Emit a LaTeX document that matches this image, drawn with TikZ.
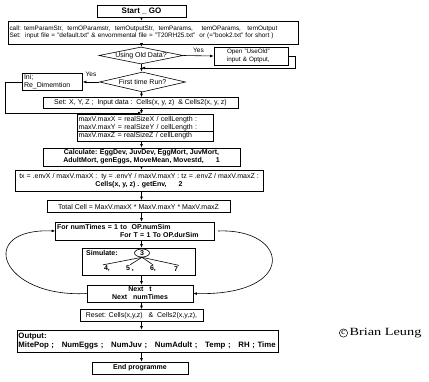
\documentclass[tikz,border=0pt]{standalone}
\usepackage{fontspec}
\setmainfont{Liberation Sans}
\newfontfamily\crfont{Liberation Serif}[FakeStretch=1.3]
\usetikzlibrary{arrows.meta,shapes.geometric,positioning}

\def \axis{141.5}
\def \txtsize{\fontsize{7}{7.8}\selectfont}

\begin{document}
\begin{tikzpicture}[x=1pt,y=-1pt,
  box/.style={draw, line width=.6pt, inner sep=1.5pt, font=\txtsize},
  bbox/.style={box, font=\txtsize\bfseries},
  ask/.style={diamond, draw, line width=.6pt, inner sep=0pt, aspect=5, font=\txtsize},
  arr/.style={line width=.6pt, -{Latex[length=3.5pt,width=2.8pt]}},
  lnk/.style={line width=.6pt},
  lbl/.style={font=\fontsize{6.5}{7}\selectfont}]
\useasboundingbox (0,0) rectangle (429,381);
\coordinate (axis) at (\axis,0);
\coordinate (j1) at (\axis,68);
\coordinate (j2) at (\axis,113);

\node[bbox, minimum width=89, minimum height=12, font=\fontsize{8}{9}\selectfont\bfseries] (start) at (141.5,11) {Start \_ GO};
\node[box, text width=287, minimum height=23, align=left, font=\fontsize{6.4}{7.4}\selectfont] (call) at (153,32.5)
  {call: temParamStr,\ \ temOParamstr,\ \ temOutputStr,\ \ temParams,\ \ \ \ temOParams,\ \ \ temOutput\\
   Set:\ \ input file = "default.txt" \& envornmental file = "T20RH25.txt"\ \ or (="book2.txt" for short )};
\node[ask, minimum width=82, minimum height=17] (using) at (141,55.5) {Using Old Data?};
\node[box, text width=48, inner xsep=13pt, minimum height=18, align=left, font=\fontsize{6.3}{7.3}\selectfont] (open) at (251,56) {Open "UseOld"\\input \& Optput,};
\node[ask, minimum width=86, minimum height=20] (first) at (142.5,82) {First time Run?};
\node[box, text width=57, minimum height=15, align=left] (ini) at (52.5,82) {Ini;\\Re\_Dimemtion};
\node[box, minimum width=195, minimum height=11] (set) at (140.5,103)
  {Set: X, Y, Z ;\ \ Input data :\ \ Cells(x, y, z)\ \ \& Cells2(x, y, z)};
\node[box, text width=133, minimum height=27, inner ysep=1pt, align=left] (maxv) at (145,127.5)
  {maxV.maxX = realSizeX / cellLength :\\maxV.maxY = realSizeY / cellLength :\\maxV.maxZ = realSizeZ / cellLength};
\draw[line width=.4pt] ([yshift=-3.6pt]maxv.west) -- ([yshift=-3.6pt]maxv.east);
\node[bbox, minimum width=197, minimum height=18, align=center] (calc) at (141.5,157)
  {Calculate: EggDev, JuvDev, EggMort, JuvMort,\\AdultMort, genEggs, MoveMean, Movestd,\hspace{12pt}1};
\node[box, minimum width=248, minimum height=21, align=center] (tx) at (139,180.5)
  {tx = .envX / maxV.maxX :\ \ ty = .envY / maxV.maxY : tz = .envZ / maxV.maxZ :\\\textbf{Cells(x, y, z) . getEnv,\hspace{12pt}2}};
\node[box, minimum width=183, minimum height=12] (total) at (138.5,206.5)
  {Total Cell = MaxV.maxX * MaxV.maxY * MaxV.maxZ};
\node[bbox, text width=156, minimum height=18, align=left] (for) at (135,231)
  {For numTimes = 1 to\ \ OP.numSim\\\hspace*{63pt}For T = 1 To OP.durSim};

% simulate block
\node[box, minimum width=113, minimum height=27] (sim) at (138.5,261.5) {};
\node[font=\txtsize\bfseries, anchor=west, inner sep=0pt] (simt) at (86,253) {Simulate:};
\node[ellipse, draw, line width=.6pt, minimum width=15, minimum height=8, inner sep=0pt, font=\txtsize\bfseries] (three) at (142,253) {3};
\foreach \x/\t/\nm in {107/{4,}/s4, 130/{5 ,}/s5, 153/{6,}/s6, 176/{7}/s7}
  \node[font=\txtsize\bfseries, inner sep=1pt] (\nm) at (\x,269) {\t};
\draw[lnk] (three.south) -- (s4.north west);
\draw[lnk] (three.south) -- (s5.north);
\draw[lnk] (three.south) -- (s6.north);
\draw[lnk] (three.south) -- (s7.north east);

\node[bbox, minimum width=106, minimum height=17, align=center] (next) at (140,293.5) {Next\ \ \ t\\Next\ \ \ numTimes};
\node[box, minimum width=123, minimum height=12] (reset) at (141.5,315.5) {Reset: Cells(x,y,z)\ \ \ \&\ \ Cells2(x,y,z),};
\node[bbox, text width=258, minimum height=22, align=left, font=\fontsize{7.8}{8.6}\selectfont\bfseries] (output) at (147.5,341)
  {Output:\\MitePop ;\ \ \ NumEggs ;\ \ \ NumJuv ;\ \ \ NumAdult ;\ \ \ Temp ;\ \ \ RH ; Time};
\node[bbox, minimum width=96, minimum height=12] (end) at (140,368) {End programme};

\node[circle, draw, line width=.5pt, inner sep=.8pt, font=\crfont\fontsize{8}{9}\selectfont] (cc) at (343.5,333) {c};
\node[right=1.5pt of cc, inner sep=0pt, font=\crfont\fontsize{11}{12}\selectfont] (who) {Brian Leung};

% main flow
\foreach \a/\b in {start/call, call/using, using/first, first/set, set/maxv, maxv/calc, calc/tx,
  tx/total, total/for, for/sim, sim/next, next/reset, reset/output, output/end}
  \draw[arr] (\a.south -| axis) -- (\b.north -| axis);

\draw[arr] (using.east) -- (open.west) node[lbl, midway, above] {Yes};
\draw[arr] (open.east) -- ++(7,0) |- (j1);
\draw[arr] (first.west) -- (ini.east) node[lbl, midway, above=2pt] {Yes};
\draw[arr] (ini.west) -- ++(-17,0) |- (j2);

% loops
\draw[arr] (next.west) .. controls (0,298) and (-25,228) .. (for.west);
\draw[arr] ([xshift=3pt]for.east) .. controls (290,228) and (298,296) .. (next.east);
\end{tikzpicture}
\end{document}
